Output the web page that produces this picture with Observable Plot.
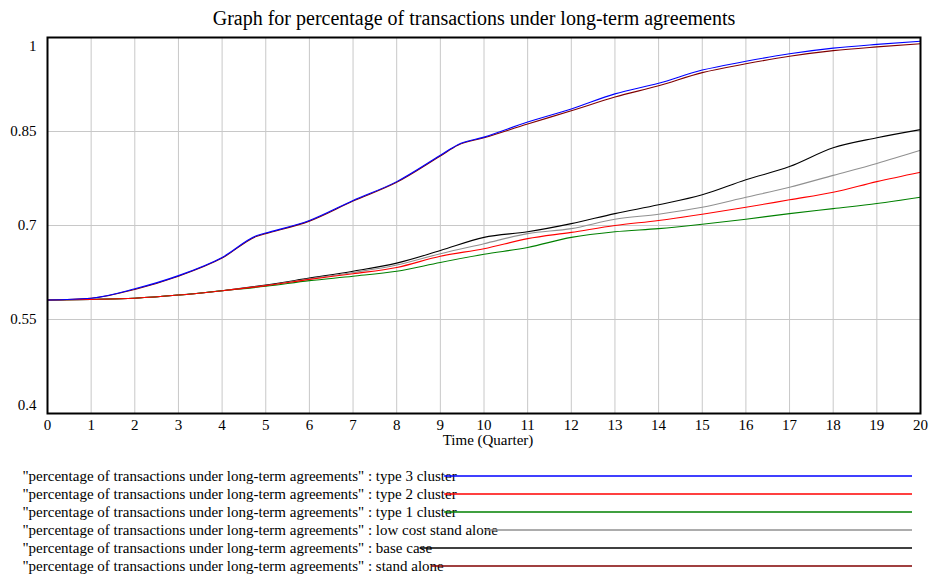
<!DOCTYPE html>
<html><head><meta charset="utf-8">
<script src="https://cdn.jsdelivr.net/npm/d3@7"></script>
<script src="https://cdn.jsdelivr.net/npm/@observablehq/plot@0.6"></script>
<style>
body{margin:0;background:#fff;font-family:"Liberation Serif","Times New Roman",serif;color:#000;width:933px;}
#title{height:30px;line-height:36px;text-align:center;font-size:20px;padding-left:15px;}
#chart svg, #legend svg{display:block;}
</style></head><body>
<div id="title">Graph for percentage of transactions under long-term agreements</div>
<div id="chart"></div>
<div id="legend"></div>
<script>
// time axis (quarters)
const quarters = [0,1,2,3,4,5,6,7,8,9,10,11,12,13,14,15,16,17,18,19,20];
const quartersTop = [0,1,2,3,4,4.8,5,6,7,8,9,9.4,10,11,12,13,14,15,16,17,18,19,20];

// series values
const type3 = [0.581,0.584,0.599,0.620,0.649,0.684,0.688,0.708,0.740,0.770,0.812,0.829,0.841,0.865,0.886,0.910,0.927,0.948,0.962,0.974,0.983,0.989,0.994];
const standAlone = [0.581,0.584,0.598,0.619,0.648,0.683,0.687,0.707,0.739,0.769,0.811,0.828,0.840,0.862,0.883,0.905,0.923,0.944,0.958,0.970,0.979,0.985,0.990];
const baseCase = [0.581,0.582,0.584,0.589,0.596,0.605,0.616,0.627,0.640,0.660,0.681,0.690,0.703,0.719,0.733,0.749,0.773,0.794,0.824,0.840,0.853];
const lowCost  = [0.581,0.582,0.584,0.589,0.596,0.604,0.615,0.625,0.637,0.655,0.671,0.687,0.695,0.710,0.718,0.729,0.745,0.761,0.780,0.799,0.820];
const type2    = [0.581,0.582,0.584,0.589,0.596,0.604,0.614,0.623,0.633,0.651,0.663,0.679,0.689,0.700,0.708,0.718,0.729,0.741,0.753,0.770,0.785];
const type1    = [0.581,0.582,0.584,0.589,0.596,0.603,0.612,0.619,0.627,0.641,0.654,0.665,0.681,0.690,0.695,0.702,0.710,0.719,0.727,0.735,0.745];

// tick labels
const xTicks = quarters;
const yTicksMid = [0.55,0.7,0.85];
const yTickTop = [1];
const yTickBottom = [0.4];

const prefix = '"percentage of transactions under long-term agreements" : ';
const seriesNames = ["type 3 cluster","type 2 cluster","type 1 cluster","low cost stand alone","base case","stand alone"];
const seriesColors = ["#0000ff","#ff0000","#008000","#909090","#000000","#800000"];

const seriesData = {
  "type 3 cluster": [quartersTop, type3],
  "type 2 cluster": [quarters, type2],
  "type 1 cluster": [quarters, type1],
  "low cost stand alone": [quarters, lowCost],
  "base case": [quarters, baseCase],
  "stand alone": [quartersTop, standAlone]
};
const colorOf = name => seriesColors[seriesNames.indexOf(name)];
const drawOrder = ["stand alone","base case","low cost stand alone","type 1 cluster","type 2 cluster","type 3 cluster"];
const rows = [];
for (const name of drawOrder) {
  const [xs, ys] = seriesData[name];
  xs.forEach((x,i) => rows.push({series:name, t:x, v:ys[i]}));
}

const grid = "#c8c8c8";
const fs = 15;
const font = '"Liberation Serif", serif';
const plot = Plot.plot({
  width: 933, height: 430,
  marginTop: 7, marginLeft: 47, marginRight: 13, marginBottom: 47,
  style: {fontFamily: font, fontSize: "15px", background: "white", color: "black"},
  x: {domain: [0,20], label: null},
  y: {domain: [0.4,1], label: null},
  marks: [
    Plot.gridX(xTicks, {stroke: grid, strokeOpacity: 1}),
    Plot.gridY(yTicksMid, {stroke: grid, strokeOpacity: 1}),
    ...drawOrder.map(name => Plot.line(rows.filter(d => d.series === name), {x:"t", y:"v", stroke: colorOf(name), strokeWidth: 1.1, curve: "monotone-x"})),
    Plot.frame({stroke: "black", strokeWidth: 2}),
    Plot.axisX(xTicks, {tickSize: 0, tickPadding: 6, label: null, fontSize: fs}),
    Plot.axisY(yTicksMid, {tickSize: 0, tickPadding: 11, label: null, tickFormat: d => String(d), fontSize: fs}),
    Plot.axisY(yTickTop, {tickSize: 0, tickPadding: 11, label: null, tickFormat: d => String(d), dy: 9, fontSize: fs}),
    Plot.axisY(yTickBottom, {tickSize: 0, tickPadding: 11, label: null, tickFormat: d => String(d), dy: -8, fontSize: fs}),
    Plot.text(["Time (Quarter)"], {frameAnchor: "bottom", dy: 31, dx: 4, fontSize: fs})
  ]
});
document.getElementById("chart").appendChild(plot);

// legend, drawn with Plot as well
const ctx = document.createElement("canvas").getContext("2d");
ctx.font = `15px ${font}`;
const textLeft = 22;
const labelEnd = name => textLeft + ctx.measureText(prefix + name).width;
const legendPlot = Plot.plot({
  width: 933, height: 116, margin: 0,
  style: {fontFamily: font, fontSize: "15px", background: "white", color: "black"},
  x: {type: "identity"},
  y: {type: "point", domain: seriesNames, range: [16, 106], padding: 0, axis: null},
  marks: [
    Plot.text(seriesNames, {y: d => d, x: textLeft, text: d => prefix + d, textAnchor: "start", fontSize: fs, fill: "black"}),
    ...seriesNames.map(name => Plot.ruleY([name], {y: d => d, x1: labelEnd(name) - 12, x2: 912, stroke: colorOf(name), strokeWidth: 1.3, dy: -0.5}))
  ]
});
document.getElementById("legend").appendChild(legendPlot);
</script>
</body></html>
